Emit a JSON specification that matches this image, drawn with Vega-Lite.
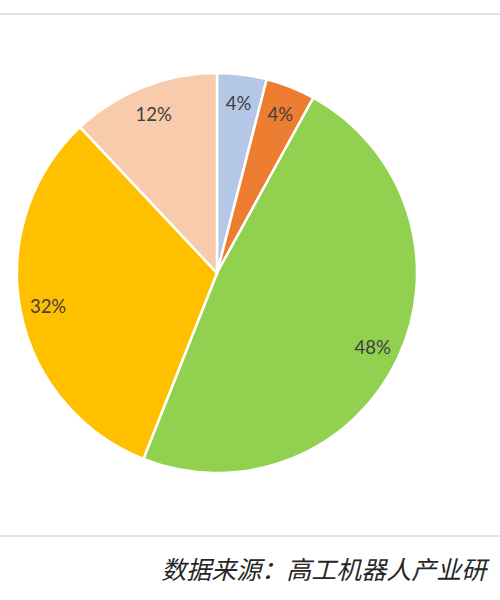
{
  "$schema": "https://vega.github.io/schema/vega-lite/v6.json",
  "width": 500,
  "height": 522,
  "autosize": "none",
  "padding": {"left": 0, "right": 0, "top": 14, "bottom": 64},
  "background": "white",
  "config": {"view": {"stroke": null}},
  "title": {
    "text": "数据来源：高工机器人产业研",
    "orient": "bottom",
    "anchor": "start",
    "dx": 162,
    "offset": 22,
    "font": "Noto Sans CJK SC",
    "fontSize": 25,
    "fontStyle": "italic",
    "fontWeight": "normal",
    "color": "#262626"
  },
  "data": {
    "values": [
      {"category": "A", "share": 4, "order": 1, "label": "4%"},
      {"category": "B", "share": 4, "order": 2, "label": "4%"},
      {"category": "C", "share": 48, "order": 3, "label": "48%"},
      {"category": "D", "share": 32, "order": 4, "label": "32%"},
      {"category": "E", "share": 12, "order": 5, "label": "12%"}
    ]
  },
  "layer": [
    {
      "data": {"values": [{}]},
      "mark": {"type": "rule", "color": "#d9d9d9", "strokeWidth": 1.5},
      "encoding": {"y": {"value": 0}}
    },
    {
      "data": {"values": [{}]},
      "mark": {"type": "rule", "color": "#d9d9d9", "strokeWidth": 1.5},
      "encoding": {"y": {"value": "height"}}
    },
    {
      "mark": {"type": "arc", "outerRadius": 200, "stroke": "white", "strokeWidth": 2.5, "xOffset": -33, "yOffset": -2},
      "encoding": {
        "theta": {"field": "share", "type": "quantitative", "stack": true},
        "order": {"field": "order", "type": "quantitative"},
        "color": {
          "field": "category",
          "type": "nominal",
          "legend": null,
          "scale": {
            "domain": ["A", "B", "C", "D", "E"],
            "range": ["#B4C7E7", "#ED7D31", "#92D050", "#FFC000", "#F8CBAD"]
          }
        }
      }
    },
    {
      "mark": {"type": "text", "radius": 172, "font": "Lato", "fontSize": 18.5, "color": "#404040", "xOffset": -33, "yOffset": 0},
      "encoding": {
        "theta": {"field": "share", "type": "quantitative", "stack": true},
        "order": {"field": "order", "type": "quantitative"},
        "text": {"field": "label", "type": "nominal"}
      }
    }
  ]
}
